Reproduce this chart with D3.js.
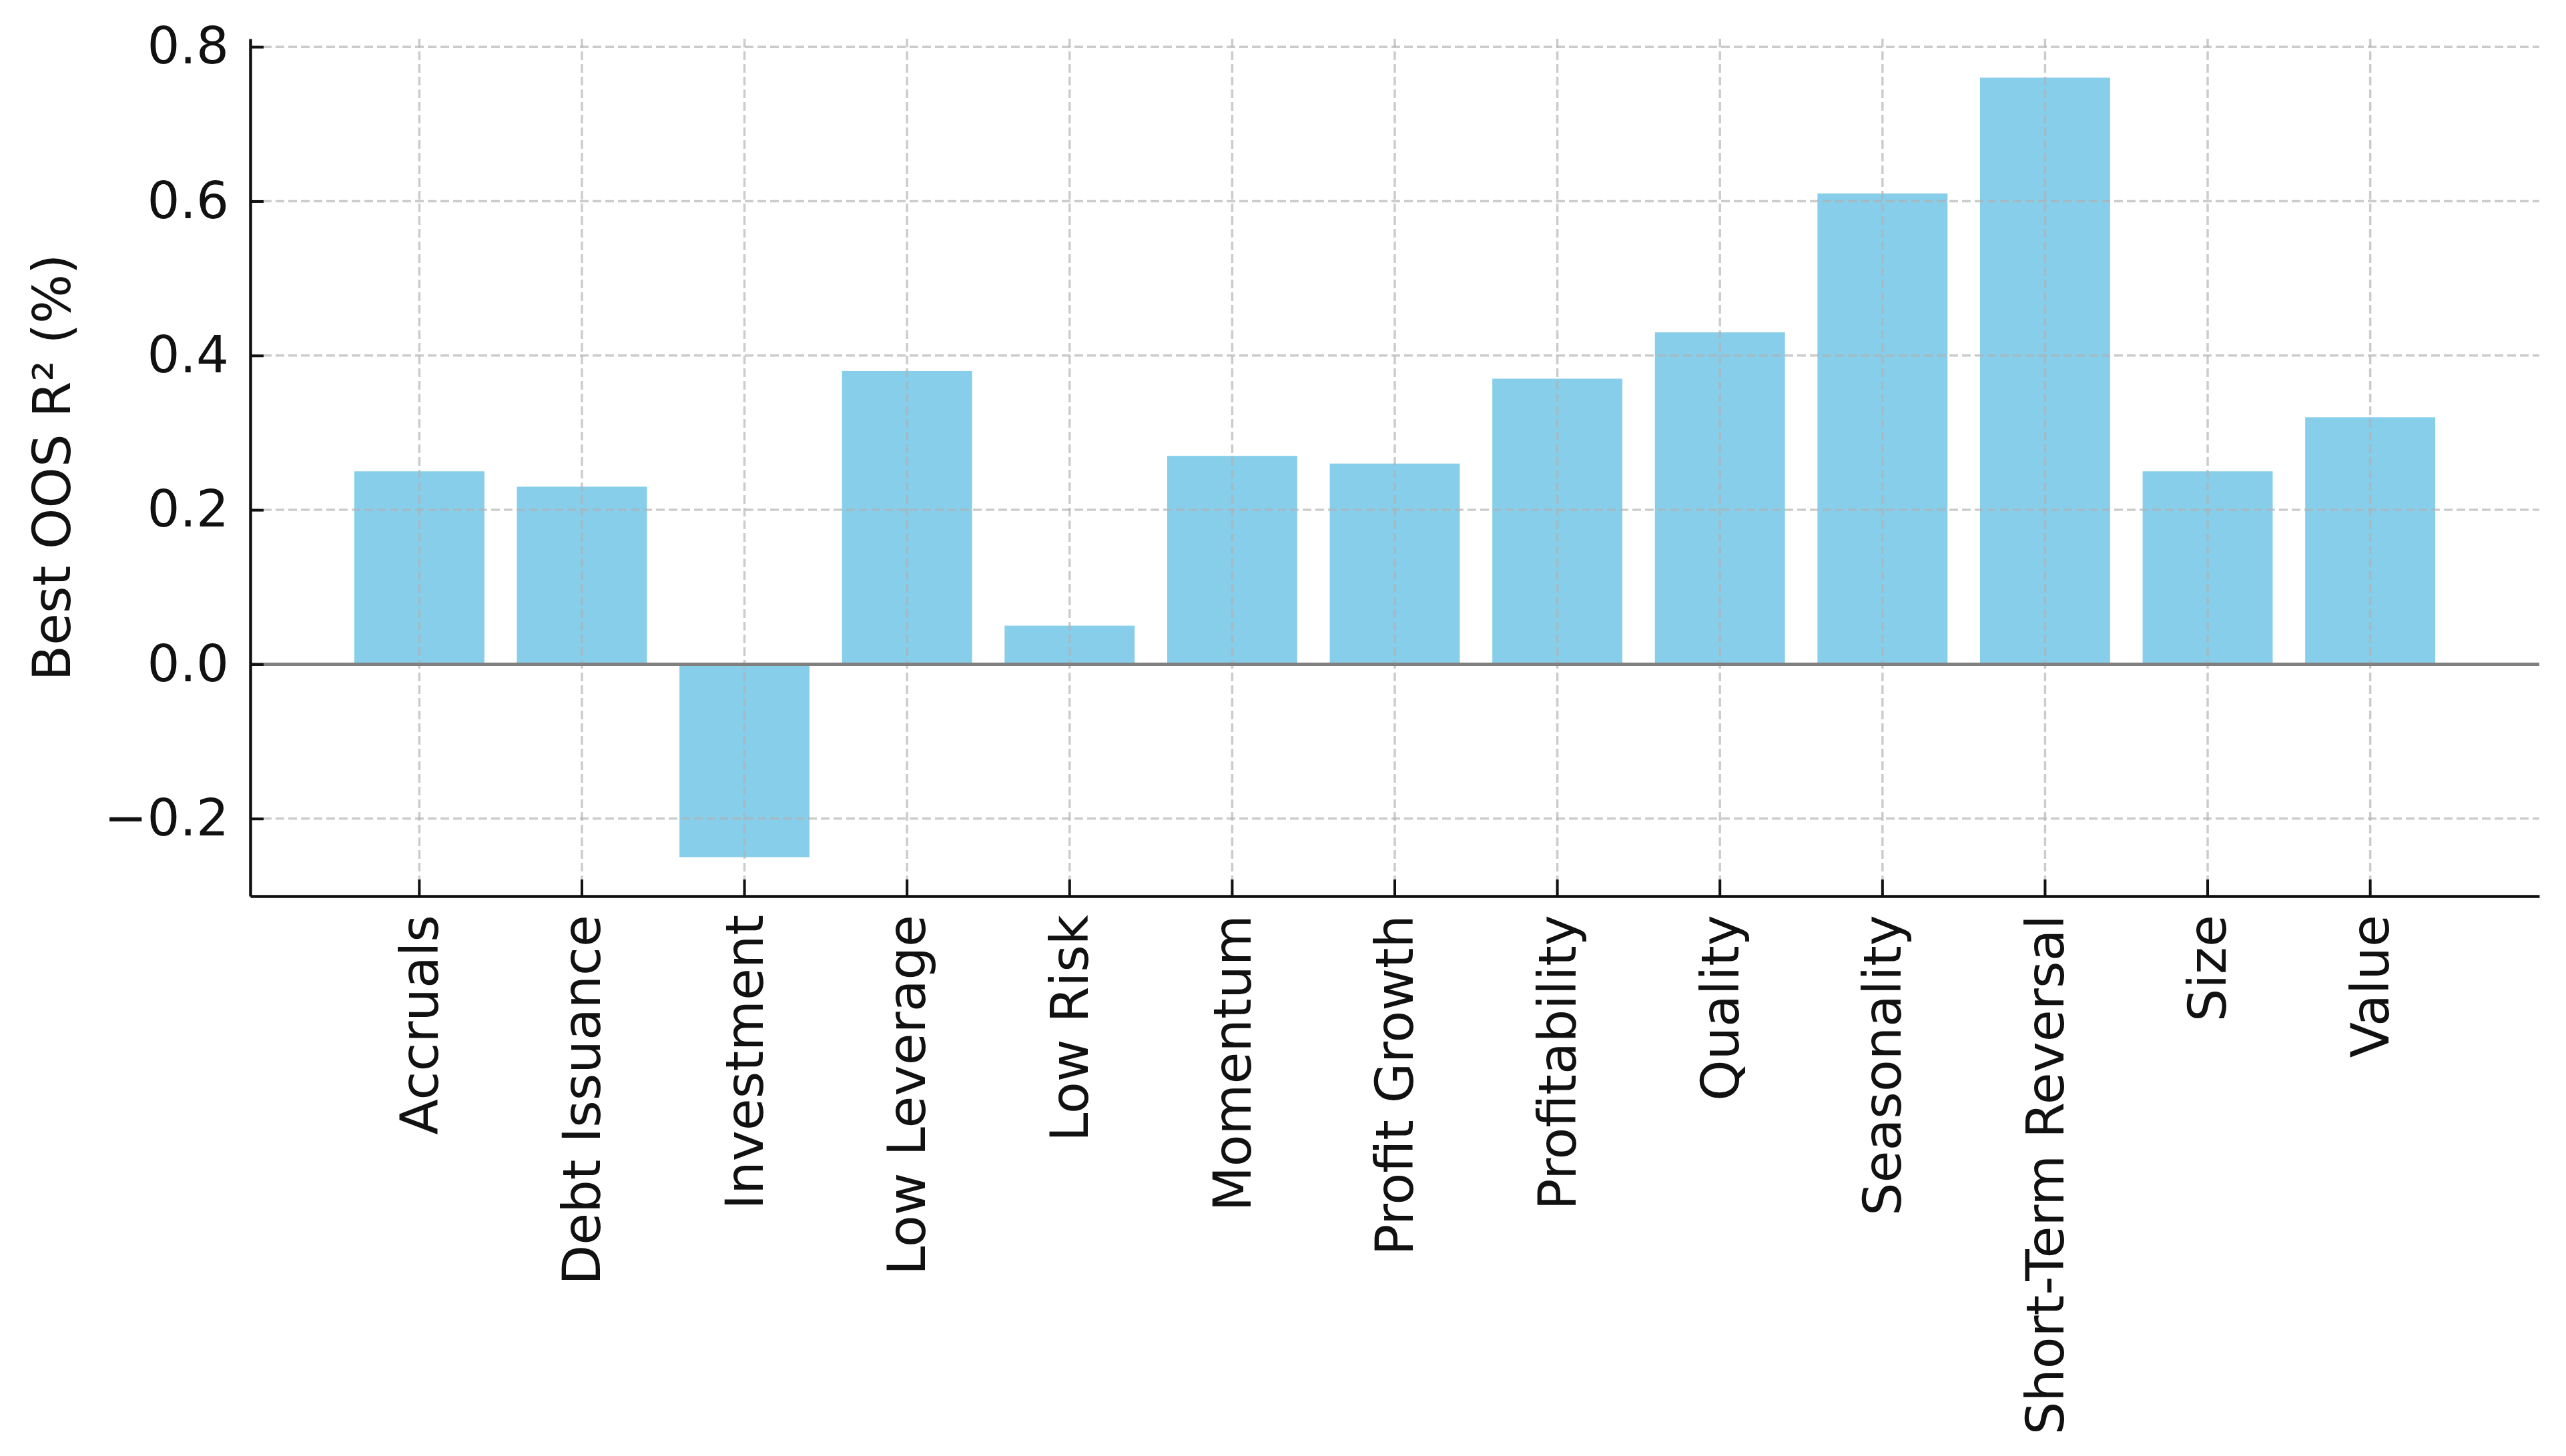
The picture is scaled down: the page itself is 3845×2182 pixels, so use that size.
<!DOCTYPE html>
<html>
<head>
<meta charset="utf-8">
<script src="https://cdn.jsdelivr.net/npm/d3@7"></script>
<style>
  body { margin: 0; background: #fff; }
  text { font-family: "DejaVu Sans", sans-serif; }
</style>
</head>
<body>
<script>
var categories = ["Accruals", "Debt Issuance", "Investment", "Low Leverage", "Low Risk",
  "Momentum", "Profit Growth", "Profitability", "Quality", "Seasonality",
  "Short-Term Reversal", "Size", "Value"];
var values = [0.25, 0.23, -0.25, 0.38, 0.05, 0.27, 0.26, 0.37, 0.43, 0.61, 0.76, 0.25, 0.32];
var yTicks = [-0.2, 0.0, 0.2, 0.4, 0.6, 0.8];
var yLabel = "Best OOS R\u00b2 (%)";

var totalWidth = 3845;
var totalHeight = 2182;

var plot = { left: 375, right: 3805, top: 58, bottom: 1343 };

var data = categories.map(function(c, i) {
  return { name: c, value: values[i] };
});

// matplotlib-like 5% margins around the data
var vMin = d3.min(values), vMax = d3.max(values);
var pad = (vMax - vMin) * 0.05;

var scaleX = d3.scaleBand()
  .domain(categories)
  .range([plot.left, plot.right])
  .paddingInner(0.2)
  .paddingOuter(0.64);

var scaleY = d3.scaleLinear()
  .domain([vMin - pad, vMax + pad])
  .range([plot.bottom, plot.top]);

var svg = d3.select("body").append("svg")
  .attr("width", totalWidth)
  .attr("height", totalHeight);

svg.append("rect")
  .attr("width", totalWidth)
  .attr("height", totalHeight)
  .attr("fill", "#fff");

// bars
svg.selectAll(".bar")
  .data(data)
  .enter().append("rect")
  .attr("class", "bar")
  .attr("x", function(d) { return scaleX(d.name); })
  .attr("width", scaleX.bandwidth())
  .attr("y", function(d) { return scaleY(Math.max(0, d.value)); })
  .attr("height", function(d) { return Math.abs(scaleY(d.value) - scaleY(0)); })
  .attr("fill", "#87ceeb");

// grid (drawn over bars, like matplotlib's default)
var grid = svg.append("g")
  .attr("stroke", "#b0b0b0")
  .attr("stroke-opacity", 0.65)
  .attr("stroke-width", 3.5)
  .attr("stroke-dasharray", "13 6");

grid.selectAll(".hgrid")
  .data(yTicks)
  .enter().append("line")
  .attr("x1", plot.left)
  .attr("x2", plot.right)
  .attr("y1", function(d) { return scaleY(d); })
  .attr("y2", function(d) { return scaleY(d); });

grid.selectAll(".vgrid")
  .data(categories)
  .enter().append("line")
  .attr("x1", function(d) { return scaleX(d) + scaleX.bandwidth() / 2; })
  .attr("x2", function(d) { return scaleX(d) + scaleX.bandwidth() / 2; })
  .attr("y1", plot.top)
  .attr("y2", plot.bottom);

// zero line
svg.append("line")
  .attr("x1", plot.left)
  .attr("x2", plot.right)
  .attr("y1", scaleY(0))
  .attr("y2", scaleY(0))
  .attr("stroke", "#808080")
  .attr("stroke-width", 5);

// y axis
var yAxis = svg.append("g")
  .attr("transform", "translate(" + plot.left + ",0)")
  .call(d3.axisLeft(scaleY)
    .tickValues(yTicks)
    .tickFormat(d3.format(".1f"))
    .tickSize(-20)
    .tickSizeOuter(0)
    .tickPadding(32));

yAxis.select(".domain").attr("stroke", "#111").attr("stroke-width", 4.5);
yAxis.selectAll(".tick line").attr("stroke", "#111").attr("stroke-width", 4);
yAxis.selectAll(".tick text")
  .attr("fill", "#111")
  .style("font-size", "77px")
  .style("font-family", "DejaVu Sans");

// x axis
var xAxis = svg.append("g")
  .attr("transform", "translate(0," + plot.bottom + ")")
  .call(d3.axisBottom(scaleX)
    .tickSize(-25)
    .tickSizeOuter(0));

xAxis.select(".domain").attr("stroke", "#111").attr("stroke-width", 4.5);
xAxis.selectAll(".tick line").attr("stroke", "#111").attr("stroke-width", 4);
xAxis.selectAll(".tick text")
  .attr("fill", "#111")
  .attr("x", 0)
  .attr("y", 0)
  .attr("dy", "0.35em")
  .attr("transform", "translate(0,28) rotate(-90)")
  .style("text-anchor", "end")
  .style("font-size", "78px")
  .style("font-family", "DejaVu Sans");

// y label
svg.append("text")
  .attr("transform", "translate(78," + (plot.top + plot.bottom) / 2 + ") rotate(-90)")
  .attr("dy", "0.35em")
  .style("text-anchor", "middle")
  .style("font-size", "78px")
  .attr("fill", "#111")
  .text(yLabel);
</script>
</body>
</html>
